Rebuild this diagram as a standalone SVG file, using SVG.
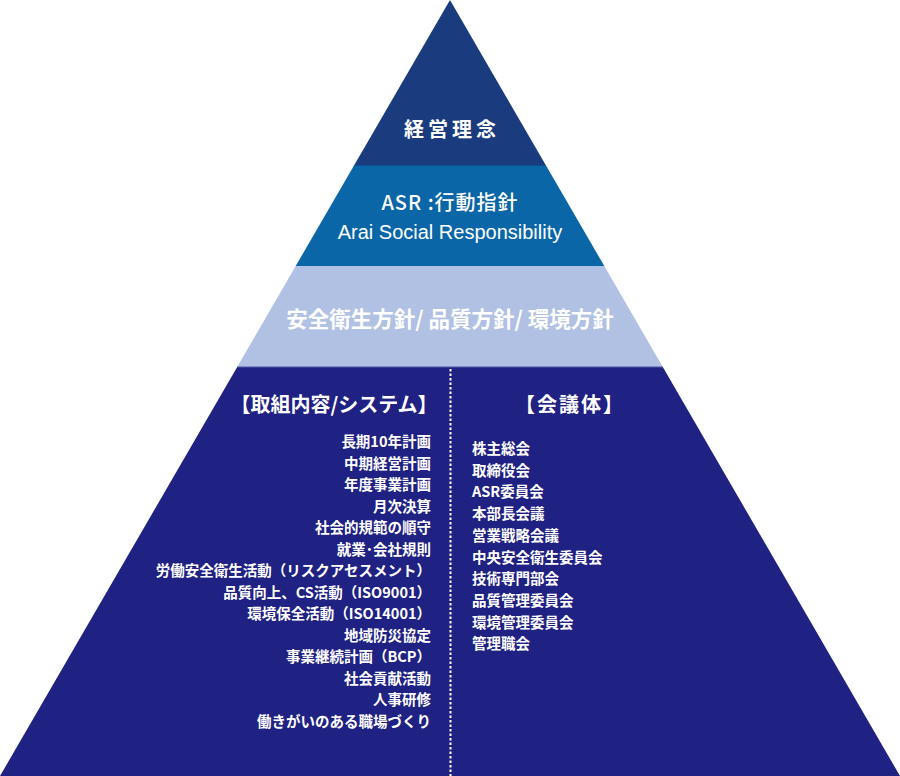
<svg xmlns="http://www.w3.org/2000/svg" width="900" height="776" viewBox="0 0 900 776">
<style>
text{font-family:"Noto Sans CJK JP","Noto Sans",sans-serif;font-weight:700;fill:#ffffff}
.h1{font-size:20px;letter-spacing:4px}
.h2{font-size:20px;font-weight:500;letter-spacing:1px}
.en{font-family:"Liberation Sans","Noto Sans",sans-serif;font-size:20px;font-weight:400}
.h3{font-size:21.5px;font-weight:600}
.hd{font-size:20px;font-weight:600}
.li{font-size:14.5px;font-weight:600}
</style>
<rect width="900" height="776" fill="#ffffff"/>
<g id="band-philosophy">
<polygon points="450,0 354.3,165 545.7,165" fill="#1a3c7e"/>
<text class="h1" x="452" y="137" text-anchor="middle">経営理念</text>
</g>
<g id="band-asr">
<polygon points="354.3,165 545.7,165 604.3,266 295.7,266" fill="#0a66a6"/>
<line x1="354" y1="165.5" x2="546" y2="165.5" stroke="#0b4f8f" stroke-width="1"/>
<text class="h2" x="450" y="210" text-anchor="middle">ASR :行動指針</text>
<text class="en" x="450" y="239" text-anchor="middle">Arai Social Responsibility</text>
</g>
<g id="band-policy">
<polygon points="295.7,266 604.3,266 662.8,367 237.2,367" fill="#b0c1e3"/>
<text class="h3" x="450" y="327" text-anchor="middle">安全衛生方針/ 品質方針/ 環境方針</text>
</g>
<g id="band-base">
<polygon points="237.2,367 662.8,367 900,776 0,776" fill="#1f2183"/>
<line x1="237" y1="367" x2="663" y2="367" stroke="#5157a6" stroke-width="1"/>
</g>
<g id="connectors">
<line x1="450.5" y1="369" x2="450.5" y2="776" stroke="#ffffff" stroke-width="2" stroke-dasharray="2.5 2"/>
</g>
<g id="systems">
<text class="hd" x="334" y="412" text-anchor="middle">【取組内容/システム】</text>
<text class="li" x="431" y="447" text-anchor="end">長期10年計画</text>
<text class="li" x="431" y="468.5" text-anchor="end">中期経営計画</text>
<text class="li" x="431" y="490" text-anchor="end">年度事業計画</text>
<text class="li" x="431" y="511.5" text-anchor="end">月次決算</text>
<text class="li" x="431" y="533" text-anchor="end">社会的規範の順守</text>
<text class="li" x="431" y="554.5" text-anchor="end">就業･会社規則</text>
<text class="li" x="431" y="576" text-anchor="end">労働安全衛生活動（リスクアセスメント）</text>
<text class="li" x="431" y="597.5" text-anchor="end">品質向上、CS活動（ISO9001）</text>
<text class="li" x="431" y="619" text-anchor="end">環境保全活動（ISO14001）</text>
<text class="li" x="431" y="640.5" text-anchor="end">地域防災協定</text>
<text class="li" x="431" y="662" text-anchor="end">事業継続計画（BCP）</text>
<text class="li" x="431" y="683.5" text-anchor="end">社会貢献活動</text>
<text class="li" x="431" y="705" text-anchor="end">人事研修</text>
<text class="li" x="431" y="726.5" text-anchor="end">働きがいのある職場づくり</text>
</g>
<g id="meetings">
<text class="hd" x="570" y="412" text-anchor="middle" letter-spacing="2">【会議体】</text>
<text class="li" x="472" y="454">株主総会</text>
<text class="li" x="472" y="475.7">取締役会</text>
<text class="li" x="472" y="497.4">ASR委員会</text>
<text class="li" x="472" y="519.1">本部長会議</text>
<text class="li" x="472" y="540.8">営業戦略会議</text>
<text class="li" x="472" y="562.5">中央安全衛生委員会</text>
<text class="li" x="472" y="584.2">技術専門部会</text>
<text class="li" x="472" y="605.9">品質管理委員会</text>
<text class="li" x="472" y="627.6">環境管理委員会</text>
<text class="li" x="472" y="649.3">管理職会</text>
</g>
</svg>
